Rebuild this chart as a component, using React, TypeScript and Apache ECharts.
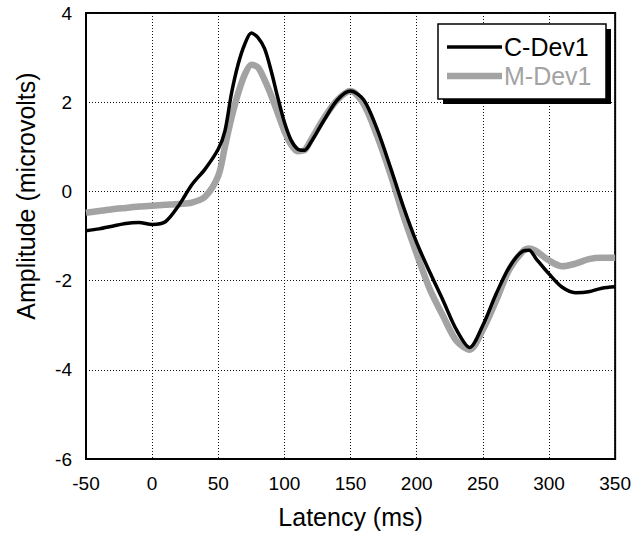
import React, { useEffect, useRef } from "react";
import * as echarts from "echarts";

const latency = [-50, -40, -30, -20, -10, 0, 10, 20, 30, 40, 50, 55, 60, 65, 70, 75, 80, 85, 90, 95, 100, 105, 110, 115, 120, 130, 140, 150, 160, 170, 180, 190, 200, 210, 220, 230, 240, 250, 260, 270, 280, 285, 290, 300, 310, 320, 330, 340, 350];

const cDev1 = [-0.88, -0.84, -0.78, -0.72, -0.7, -0.74, -0.68, -0.32, 0.15, 0.5, 0.95, 1.35, 2.2, 2.85, 3.3, 3.55, 3.45, 3.2, 2.7, 2.1, 1.55, 1.15, 0.95, 0.92, 1.1, 1.6, 2.05, 2.25, 2.05, 1.4, 0.55, -0.35, -1.15, -1.82, -2.45, -3.1, -3.5, -3.0, -2.3, -1.7, -1.34, -1.32, -1.5, -1.85, -2.15, -2.27, -2.25, -2.17, -2.14];

const mDev1 = [-0.48, -0.44, -0.4, -0.37, -0.34, -0.32, -0.3, -0.28, -0.25, -0.12, 0.35, 1.0, 1.65, 2.2, 2.62, 2.84, 2.78, 2.5, 2.15, 1.75, 1.35, 1.05, 0.9, 0.92, 1.15, 1.65, 2.05, 2.25, 1.95, 1.25, 0.4, -0.55, -1.4, -2.2, -2.8, -3.35, -3.55, -3.1, -2.45, -1.75, -1.35, -1.28, -1.33, -1.55, -1.68, -1.62, -1.52, -1.49, -1.49];

const seriesNames = ["C-Dev1", "M-Dev1"];
const xTicks = { min: -50, max: 350, interval: 50 };
const yTicks = { min: -6, max: 4, interval: 2 };

const FONT = "Liberation Sans, Arial, sans-serif";

export default function App() {
  const ref = useRef<HTMLDivElement>(null);
  useEffect(() => {
    if (!ref.current) return;
    const chart = echarts.init(ref.current, null, { renderer: "svg" });
    const pair = (ys: number[]) => latency.map((x, i) => [x, ys[i]]);
    chart.setOption({
      animation: false,
      backgroundColor: "#ffffff",
      textStyle: { fontFamily: FONT },
      grid: { left: 86, top: 13, right: 17, bottom: 82, show: true, borderColor: "#000", borderWidth: 2, backgroundColor: "transparent" },
      xAxis: {
        type: "value",
        min: xTicks.min,
        max: xTicks.max,
        interval: xTicks.interval,
        name: "Latency (ms)",
        nameLocation: "middle",
        nameGap: 45,
        nameTextStyle: { fontSize: 25, color: "#000", fontFamily: FONT },
        axisLine: { show: true, onZero: false, lineStyle: { color: "#000", width: 2 } },
        axisTick: { show: false },
        axisLabel: { fontSize: 19, color: "#000", margin: 15, fontFamily: FONT },
        splitLine: { show: true, lineStyle: { type: [1, 2], color: "#111", width: 1 } },
      },
      yAxis: {
        type: "value",
        min: yTicks.min,
        max: yTicks.max,
        interval: yTicks.interval,
        axisLine: { show: true, onZero: false, lineStyle: { color: "#000", width: 2 } },
        axisTick: { show: false },
        axisLabel: { fontSize: 19, color: "#000", margin: 14, fontFamily: FONT },
        splitLine: { show: true, lineStyle: { type: [1, 2], color: "#111", width: 1 } },
      },
      legend: { show: false },
      series: [
        {
          name: seriesNames[1],
          type: "line",
          data: pair(mDev1),
          showSymbol: false,
          symbol: "none",
          smooth: 0.3,
          z: 2,
          lineStyle: { color: "#a3a3a3", width: 6.5 },
        },
        {
          name: seriesNames[0],
          type: "line",
          data: pair(cDev1),
          showSymbol: false,
          symbol: "none",
          smooth: 0.3,
          z: 3,
          lineStyle: { color: "#000", width: 3.5 },
        },
      ],
      graphic: [
        {
          type: "text",
          rotation: Math.PI / 2,
          x: 26,
          y: 196,
          style: {
            text: "Amplitude (microvolts)",
            fontSize: 25,
            fontFamily: FONT,
            fill: "#000",
            align: "center",
            verticalAlign: "middle",
          },
        },
        { type: "rect", shape: { x: 443, y: 29, width: 168, height: 75 }, style: { fill: "#000" }, z: 10 },
        { type: "rect", shape: { x: 438, y: 24, width: 168, height: 75 }, style: { fill: "#fff", stroke: "#000", lineWidth: 1.5 }, z: 11 },
        { type: "line", shape: { x1: 447, y1: 47, x2: 502, y2: 47 }, style: { stroke: "#000", lineWidth: 3.5 }, z: 12 },
        { type: "line", shape: { x1: 447, y1: 76, x2: 502, y2: 76 }, style: { stroke: "#a3a3a3", lineWidth: 6.5 }, z: 12 },
        { type: "text", x: 504, y: 47, style: { text: seriesNames[0], fontSize: 25, fontFamily: FONT, fill: "#000", verticalAlign: "middle" }, z: 12 },
        { type: "text", x: 504, y: 76, style: { text: seriesNames[1], fontSize: 25, fontFamily: FONT, fill: "#a3a3a3", verticalAlign: "middle" }, z: 12 },
      ],
    });
    return () => chart.dispose();
  }, []);
  return <div ref={ref} style={{ width: 634, height: 541, position: "absolute", left: 0, top: 0 }} />;
}
